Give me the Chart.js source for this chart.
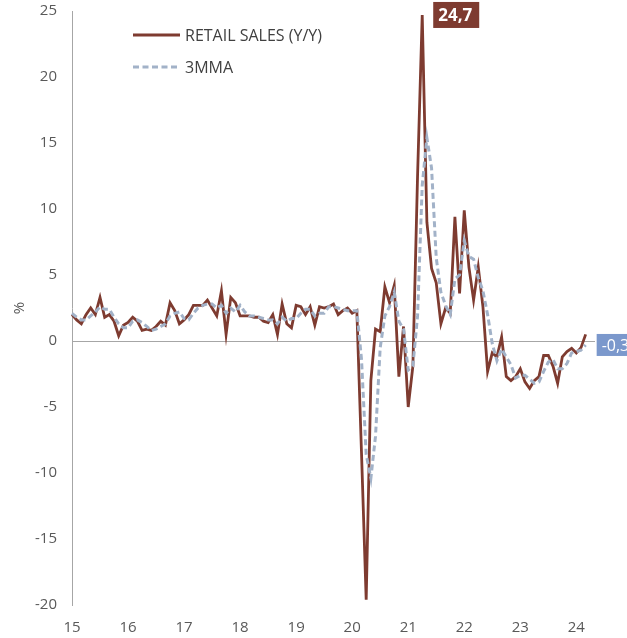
<!DOCTYPE html>
<html>
<head>
<meta charset="utf-8">
<title>Retail sales</title>
<script src="https://cdn.jsdelivr.net/npm/chart.js@4.4.1/dist/chart.umd.min.js"></script>
<style>
  html, body { margin: 0; padding: 0; background: #fff; }
</style>
</head>
<body>
<canvas id="myChart" width="627" height="638"></canvas>
<script>
// tick labels on the x axis (one per January)
const yearLabels = ['15', '16', '17', '18', '19', '20', '21', '22', '23', '24'];
const monthNames = ['Jan', 'Feb', 'Mar', 'Apr', 'May', 'Jun', 'Jul', 'Aug', 'Sep', 'Oct', 'Nov', 'Dec'];
// Jan 2015 .. May 2024 (the axis runs two months past the last value)
const months = yearLabels.flatMap(y => monthNames.map(m => `${m} ${y}`)).slice(0, 113);

// retail sales, % y/y, Jan 2015 .. Mar 2024
const retailSales = [
   2.0,  1.6,  1.3,  2.0,  2.5,  2.0,  3.3,  1.8,  2.0,  1.5,  0.4,  1.2,
   1.4,  1.8,  1.5,  0.8,  0.9,  0.8,  1.1,  1.5,  1.2,  2.9,  2.3,  1.3,
   1.6,  2.0,  2.7,  2.7,  2.7,  3.1,  2.5,  1.9,  3.8,  0.5,  3.3,  2.9,
   1.9,  1.9,  1.9,  1.8,  1.8,  1.5,  1.4,  2.0,  0.5,  2.8,  1.3,  1.0,
   2.7,  2.6,  2.0,  2.6,  1.2,  2.6,  2.5,  2.6,  2.8,  2.0,  2.3,  2.5,
   2.1,  2.3, -8.5,-19.6, -3.0,  0.9,  0.7,  4.1,  2.9,  4.2, -2.7,  1.1,
  -5.0, -1.9, 12.5, 24.7,  9.0,  5.5,  4.4,  1.3,  2.5,  2.1,  9.4,  3.6,
   9.9,  5.6,  3.1,  5.6,  2.6, -2.3, -0.9, -1.2,  0.3, -2.7, -3.0, -2.7,
  -2.1, -3.1, -3.6, -3.0, -2.7, -1.1, -1.1, -1.9, -3.2, -1.2, -0.8, -0.55,
  -0.9, -0.5,  0.5
];

// 3 month moving average
const mma3 = [
   2.1,  1.8,  1.6,  1.6,  1.9,  2.2,  2.6,  2.4,  2.4,  1.8,  1.3,  1.0,
   1.0,  1.5,  1.6,  1.4,  1.1,  0.8,  0.9,  1.1,  1.3,  1.9,  2.1,  2.2,
   1.7,  1.6,  2.1,  2.5,  2.7,  2.8,  2.8,  2.5,  2.7,  2.1,  2.5,  2.2,
   2.7,  2.2,  1.9,  1.9,  1.8,  1.7,  1.6,  1.6,  1.3,  1.8,  1.5,  1.7,
   1.7,  2.1,  2.4,  2.4,  1.9,  2.1,  2.1,  2.6,  2.6,  2.5,  2.4,  2.3,
   2.3,  2.3, -1.4, -8.6,-10.4, -7.2, -0.5,  1.9,  2.6,  3.7,  1.5,  0.9,
  -2.2, -1.9,  1.9, 11.8, 15.4, 13.1,  6.3,  3.7,  2.7,  2.0,  4.7,  5.0,
   7.6,  6.4,  6.2,  4.8,  3.8,  2.0, -0.2, -1.5, -0.6, -1.2, -1.8, -2.8,
  -2.6, -2.6, -2.9, -3.2, -3.1, -2.3, -1.6, -1.4, -2.1, -2.1, -1.7, -0.9,
  -0.8, -0.7, -0.3
];

// value boxes: which series, which month, what text
const callouts = [
  { dataset: 0, index: 75, text: '24,7', color: '#7E3B30', font: 'bold 17px "Open Sans"', width: 46, height: 26 },
  { dataset: 1, index: 110, text: '-0,3', color: '#7B98CC', font: '16px "Open Sans"', width: 42, height: 22 }
];

const brown = '#7E3B30';
const greyBlue = '#A2B2C8';
const textColor = '#595959';

const legendBox = {
  id: 'legendBox',
  afterDraw(chart) {
    const { ctx, chartArea } = chart;
    chart.data.datasets.forEach((ds, i) => {
      const x = chartArea.left + 61;
      const y = chartArea.top + 24 + i * 32;
      ctx.save();
      ctx.strokeStyle = ds.borderColor;
      ctx.lineWidth = 3;
      ctx.setLineDash(ds.borderDash || []);
      ctx.beginPath();
      ctx.moveTo(x, y);
      ctx.lineTo(x + 47, y);
      ctx.stroke();
      ctx.setLineDash([]);
      ctx.fillStyle = '#404040';
      ctx.font = '16px "Open Sans"';
      ctx.textBaseline = 'middle';
      ctx.fillText(ds.label, x + 52, y + 1);
      ctx.restore();
    });
  }
};

const valueBoxes = {
  id: 'valueBoxes',
  afterDraw(chart) {
    const { ctx } = chart;
    callouts.forEach(c => {
      const pt = chart.getDatasetMeta(c.dataset).data[c.index];
      const x = pt.x + 11;
      const y = pt.y - c.height / 2;
      ctx.save();
      ctx.fillStyle = c.color;
      ctx.fillRect(x, y, c.width, c.height);
      ctx.fillStyle = '#fff';
      ctx.font = c.font;
      ctx.textBaseline = 'middle';
      ctx.fillText(c.text, x + 5, pt.y + 1);
      ctx.restore();
    });
  }
};

function renderGrafico() {
  const ctx = document.getElementById('myChart');
  new Chart(ctx, {
    type: 'line',
    data: {
      labels: months,
      datasets: [
        {
          label: 'RETAIL SALES (Y/Y)',
          data: retailSales,
          borderColor: brown,
          borderWidth: 2.8,
          pointRadius: 0,
          tension: 0,
          order: 2
        },
        {
          label: '3MMA',
          data: mma3,
          borderColor: greyBlue,
          borderWidth: 3,
          borderDash: [6, 3.5],
          pointRadius: 0,
          tension: 0,
          order: 1
        }
      ]
    },
    options: {
      responsive: false,
      animation: false,
      devicePixelRatio: 1,
      layout: { padding: { top: 0, right: 32, bottom: 0, left: 0 } },
      plugins: {
        legend: { display: false },
        tooltip: { enabled: false }
      },
      scales: {
        x: {
          grid: { display: false, drawTicks: false },
          border: { display: false },
          ticks: {
            autoSkip: false,
            maxRotation: 0,
            padding: 14,
            color: textColor,
            font: { family: 'Open Sans', size: 15 },
            callback: (value, index) => index % 12 === 0 ? yearLabels[index / 12] : null
          },
          afterFit: scale => { scale.height = 33; }
        },
        y: {
          min: -20,
          max: 25,
          grid: {
            drawTicks: false,
            color: c => c.tick.value === 0 ? '#A6A6A6' : 'rgba(0,0,0,0)'
          },
          border: { display: true, color: '#A6A6A6', width: 1 },
          ticks: {
            stepSize: 5,
            padding: 15,
            color: textColor,
            font: { family: 'Open Sans', size: 15 }
          },
          title: {
            display: true,
            text: '%',
            color: textColor,
            font: { family: 'Open Sans', size: 15 },
            padding: { top: 11, bottom: 0 }
          },
          afterFit: scale => {
            scale.width = 72;
            scale.paddingTop = 11;
            scale.paddingBottom = 0;
          }
        }
      }
    },
    plugins: [legendBox, valueBoxes]
  });
}

document.fonts.load('15px "Open Sans"').then(renderGrafico, renderGrafico);
</script>
</body>
</html>
